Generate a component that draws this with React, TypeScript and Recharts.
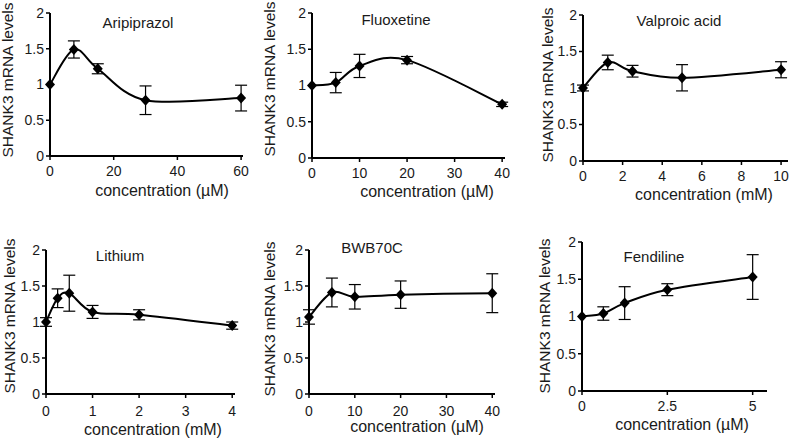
import React from 'react';
import { LineChart, Line, XAxis, YAxis, ErrorBar } from 'recharts';

const FONT = 'Arial, "Liberation Sans", sans-serif';
const INK = '#1a1a1a';

// Aripiprazol (µM)
const aripConc = [0, 7.5, 15, 30, 60];
const aripMean = [1.0, 1.49, 1.22, 0.78, 0.81];
const aripErr = [0, 0.12, 0.07, 0.2, 0.18];

// Fluoxetine (µM)
const fluoConc = [0, 5, 10, 20, 40];
const fluoMean = [1.0, 1.04, 1.27, 1.35, 0.74];
const fluoErr = [0, 0.14, 0.16, 0.05, 0.03];

// Valproic acid (mM)
const valpConc = [0, 1.25, 2.5, 5, 10];
const valpMean = [1.0, 1.35, 1.23, 1.14, 1.25];
const valpErr = [0.04, 0.1, 0.08, 0.18, 0.11];

// Lithium (mM)
const lithConc = [0, 0.25, 0.5, 1, 2, 4];
const lithMean = [1.0, 1.33, 1.4, 1.14, 1.1, 0.95];
const lithErr = [0.06, 0.13, 0.25, 0.09, 0.07, 0.05];

// BWB70C (µM)
const bwbConc = [0, 5, 10, 20, 40];
const bwbMean = [1.07, 1.41, 1.35, 1.38, 1.4];
const bwbErr = [0.1, 0.2, 0.17, 0.19, 0.27];

// Fendiline (µM)
const fendConc = [0, 0.625, 1.25, 2.5, 5];
const fendMean = [1.0, 1.04, 1.18, 1.36, 1.53];
const fendErr = [0, 0.09, 0.22, 0.08, 0.3];

const yTicks = [0, 0.5, 1, 1.5, 2];

// smooth line like the spreadsheet one (cardinal through the points)
const smoothCurve = (context: any) => {
  let pts: number[][] = [];
  return {
    areaStart() {},
    areaEnd() {},
    lineStart() {
      pts = [];
    },
    point(x: number, y: number) {
      pts.push([+x, +y]);
    },
    lineEnd() {
      const n = pts.length;
      if (!n) return;
      context.moveTo(pts[0][0], pts[0][1]);
      for (let i = 0; i < n - 1; i++) {
        const p0 = pts[Math.max(i - 1, 0)];
        const p1 = pts[i];
        const p2 = pts[i + 1];
        const p3 = pts[Math.min(i + 2, n - 1)];
        context.bezierCurveTo(
          p1[0] + (p2[0] - p0[0]) / 6,
          p1[1] + (p2[1] - p0[1]) / 6,
          p2[0] - (p3[0] - p1[0]) / 6,
          p2[1] - (p3[1] - p1[1]) / 6,
          p2[0],
          p2[1]
        );
      }
    },
  };
};

const Diamond = ({ cx, cy }: any) => {
  if (cx == null || cy == null) return null;
  return <path d={`M${cx},${cy - 5.5}L${cx + 5},${cy}L${cx},${cy + 5.5}L${cx - 5},${cy}Z`} fill="#000" />;
};

type PanelProps = {
  title: string;
  xLabel: string;
  conc: number[];
  mean: number[];
  err: number[];
  xMax: number;
  xTicks: number[];
  left: number;
  top: number;
  width: number;
  height: number;
  margin: { top: number; right: number; bottom: number; left: number };
  tickGap: number;
  titleAt: [number, number];
  yLabelAt: [number, number];
  xLabelAt: [number, number];
};

function Panel(p: PanelProps) {
  const data = p.conc.map((c, i) => ({ c, m: p.mean[i], e: p.err[i] }));
  return (
    <div style={{ position: 'absolute', left: p.left, top: p.top }}>
      <LineChart width={p.width} height={p.height} data={data} margin={p.margin}>
        <XAxis
          type="number"
          dataKey="c"
          domain={[0, p.xMax]}
          ticks={p.xTicks}
          height={30}
          tickSize={4}
          tickMargin={p.tickGap}
          axisLine={{ stroke: '#000', strokeWidth: 2 }}
          tickLine={{ stroke: '#000', strokeWidth: 1.5 }}
          tick={{ fill: INK, fontSize: 14, fontFamily: FONT }}
        />
        <YAxis
          type="number"
          domain={[0, 2]}
          ticks={yTicks}
          width={40}
          tickSize={4}
          tickMargin={2}
          axisLine={{ stroke: '#000', strokeWidth: 2 }}
          tickLine={{ stroke: '#000', strokeWidth: 1.5 }}
          tick={{ fill: INK, fontSize: 14, fontFamily: FONT }}
        />
        <Line
          dataKey="m"
          type={smoothCurve as any}
          stroke="#000"
          strokeWidth={2}
          isAnimationActive={false}
          dot={(d: any) => <Diamond key={`d-${d.index}`} cx={d.cx} cy={d.cy} />}
          activeDot={false}
        >
          <ErrorBar dataKey="e" width={6} strokeWidth={1.2} stroke="#000" direction="y" />
        </Line>
        <text x={p.titleAt[0]} y={p.titleAt[1]} textAnchor="middle" fontSize={15} fontFamily={FONT} fill={INK}>
          {p.title}
        </text>
        <text
          x={p.yLabelAt[0]}
          y={p.yLabelAt[1]}
          textAnchor="middle"
          fontSize={15.5}
          fontFamily={FONT}
          fill={INK}
          transform={`rotate(-90, ${p.yLabelAt[0]}, ${p.yLabelAt[1]})`}
        >
          SHANK3 mRNA levels
        </text>
        <text x={p.xLabelAt[0]} y={p.xLabelAt[1]} textAnchor="middle" fontSize={16} fontFamily={FONT} fill={INK}>
          {p.xLabel}
        </text>
      </LineChart>
    </div>
  );
}

export default function App() {
  return (
    <div style={{ position: 'absolute', left: 0, top: 0, width: 790, height: 440, background: '#fff' }}>
      <Panel
        title="Aripiprazol" xLabel="concentration (µM)"
        conc={aripConc} mean={aripMean} err={aripErr}
        xMax={60.6} xTicks={[0, 20, 40, 60]}
        left={0} top={0} width={255} height={215}
        margin={{ top: 13, right: 12, bottom: 29, left: 10 }} tickGap={6}
        titleAt={[138, 28]} yLabelAt={[13, 80]} xLabelAt={[162, 196]}
      />
      <Panel
        title="Fluoxetine" xLabel="concentration (µM)"
        conc={fluoConc} mean={fluoMean} err={fluoErr}
        xMax={40.6} xTicks={[0, 10, 20, 30, 40]}
        left={255} top={0} width={265} height={215}
        margin={{ top: 13, right: 15, bottom: 27, left: 17 }} tickGap={6}
        titleAt={[141, 25]} yLabelAt={[20, 79]} xLabelAt={[172, 197]}
      />
      <Panel
        title="Valproic acid" xLabel="concentration (mM)"
        conc={valpConc} mean={valpMean} err={valpErr}
        xMax={10.35} xTicks={[0, 2, 4, 6, 8, 10]}
        left={520} top={0} width={270} height={215}
        margin={{ top: 15, right: 2, bottom: 24, left: 23 }} tickGap={6}
        titleAt={[159, 26]} yLabelAt={[33, 85]} xLabelAt={[184, 200]}
      />
      <Panel
        title="Lithium" xLabel="concentration (mM)"
        conc={lithConc} mean={lithMean} err={lithErr}
        xMax={4.06} xTicks={[0, 1, 2, 3, 4]}
        left={0} top={225} width={255} height={215}
        margin={{ top: 25, right: 20, bottom: 16, left: 6 }} tickGap={8}
        titleAt={[120, 36]} yLabelAt={[15, 91]} xLabelAt={[153, 210]}
      />
      <Panel
        title="BWB70C" xLabel="concentration (µM)"
        conc={bwbConc} mean={bwbMean} err={bwbErr}
        xMax={40.6} xTicks={[0, 10, 20, 30, 40]}
        left={255} top={225} width={265} height={215}
        margin={{ top: 25, right: 25, bottom: 16, left: 14 }} tickGap={8}
        titleAt={[117, 28]} yLabelAt={[20, 94]} xLabelAt={[162, 207]}
      />
      <Panel
        title="Fendiline" xLabel="concentration (µM)"
        conc={fendConc} mean={fendMean} err={fendErr}
        xMax={5.42} xTicks={[0, 2.5, 5]}
        left={520} top={225} width={270} height={215}
        margin={{ top: 17, right: 23, bottom: 19, left: 22 }} tickGap={6}
        titleAt={[134, 37]} yLabelAt={[30, 91]} xLabelAt={[162, 205]}
      />
    </div>
  );
}
